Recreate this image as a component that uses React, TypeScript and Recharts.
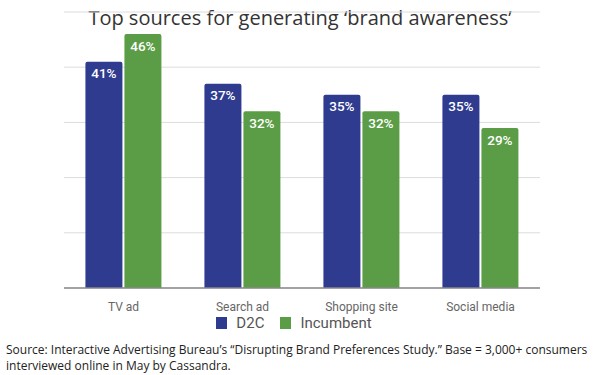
import React from "react";
import {
  BarChart,
  Bar,
  XAxis,
  YAxis,
  CartesianGrid,
  Legend,
  LabelList,
} from "recharts";

const categories = ["TV ad", "Search ad", "Shopping site", "Social media"];
const d2cValues = [41, 37, 35, 35];
const incumbentValues = [46, 32, 32, 29];
const yTicks = [0, 10, 20, 30, 40];

const D2C_COLOR = "#2f3b8f";
const INC_COLOR = "#5b9d46";

const data = categories.map((name, i) => ({
  name,
  d2c: d2cValues[i],
  incumbent: incumbentValues[i],
}));

function LegendContent() {
  const items = [
    { label: "D2C", color: D2C_COLOR },
    { label: "Incumbent", color: INC_COLOR },
  ];
  return (
    <div
      style={{
        display: "flex",
        justifyContent: "center",
        alignItems: "center",
        fontFamily: "Roboto, sans-serif",
        fontSize: 15,
        color: "#555",
        height: 20,
      }}
    >
      {items.map((it) => (
        <div key={it.label} style={{ display: "flex", alignItems: "center", marginRight: 16 }}>
          <span
            style={{
              width: 11,
              height: 12,
              background: it.color,
              display: "inline-block",
              marginRight: 9,
            }}
          />
          <span>{it.label}</span>
        </div>
      ))}
    </div>
  );
}

const labelStyle = {
  fill: "#fff",
  fontFamily: "Roboto, sans-serif",
  fontSize: 13.5,
  fontWeight: 500,
};

export default function App() {
  return (
    <div
      style={{
        position: "fixed",
        left: 0,
        top: 0,
        width: 600,
        height: 375,
        background: "#fff",
      }}
    >
      <div
        style={{
          position: "absolute",
          top: 4,
          left: 0,
          width: 600,
          textAlign: "center",
          fontFamily: "'Open Sans', sans-serif",
          fontSize: 20,
          color: "#333",
        }}
      >
        Top sources for generating ‘brand awareness’
      </div>
      <div style={{ position: "absolute", top: 0, left: 0 }}>
        <BarChart
          width={600}
          height={340}
          data={data}
          margin={{ top: 12, right: 60, left: 64, bottom: 7 }}
          barCategoryGap="18%"
          barGap={2}
        >
          <CartesianGrid vertical={false} stroke="#dcdcdc" />
          <XAxis
            dataKey="name"
            height={25}
            tickLine={false}
            axisLine={{ stroke: "#888", strokeWidth: 1.5 }}
            tickMargin={8}
            tick={{ fontFamily: "Roboto, sans-serif", fontSize: 12, fill: "#666" }}
          />
          <YAxis hide domain={[0, 50]} ticks={yTicks} />
          <Legend verticalAlign="bottom" height={20} content={<LegendContent />} />
          <Bar dataKey="d2c" fill={D2C_COLOR} radius={[2, 2, 0, 0]} isAnimationActive={false}>
            <LabelList
              dataKey="d2c"
              position="insideTop"
              offset={7}
              formatter={(v: any) => `${v}%`}
              style={labelStyle}
            />
          </Bar>
          <Bar dataKey="incumbent" fill={INC_COLOR} radius={[2, 2, 0, 0]} isAnimationActive={false}>
            <LabelList
              dataKey="incumbent"
              position="insideTop"
              offset={7}
              formatter={(v: any) => `${v}%`}
              style={labelStyle}
            />
          </Bar>
        </BarChart>
      </div>
      <div
        style={{
          position: "absolute",
          top: 342,
          left: 6,
          width: 594,
          fontFamily: "'Open Sans', sans-serif",
          fontSize: 12,
          lineHeight: "16px",
          color: "#222",
        }}
      >
        Source: Interactive Advertising Bureau’s “Disrupting Brand Preferences Study.” Base = 3,000+ consumers interviewed online in May by Cassandra.
      </div>
    </div>
  );
}
